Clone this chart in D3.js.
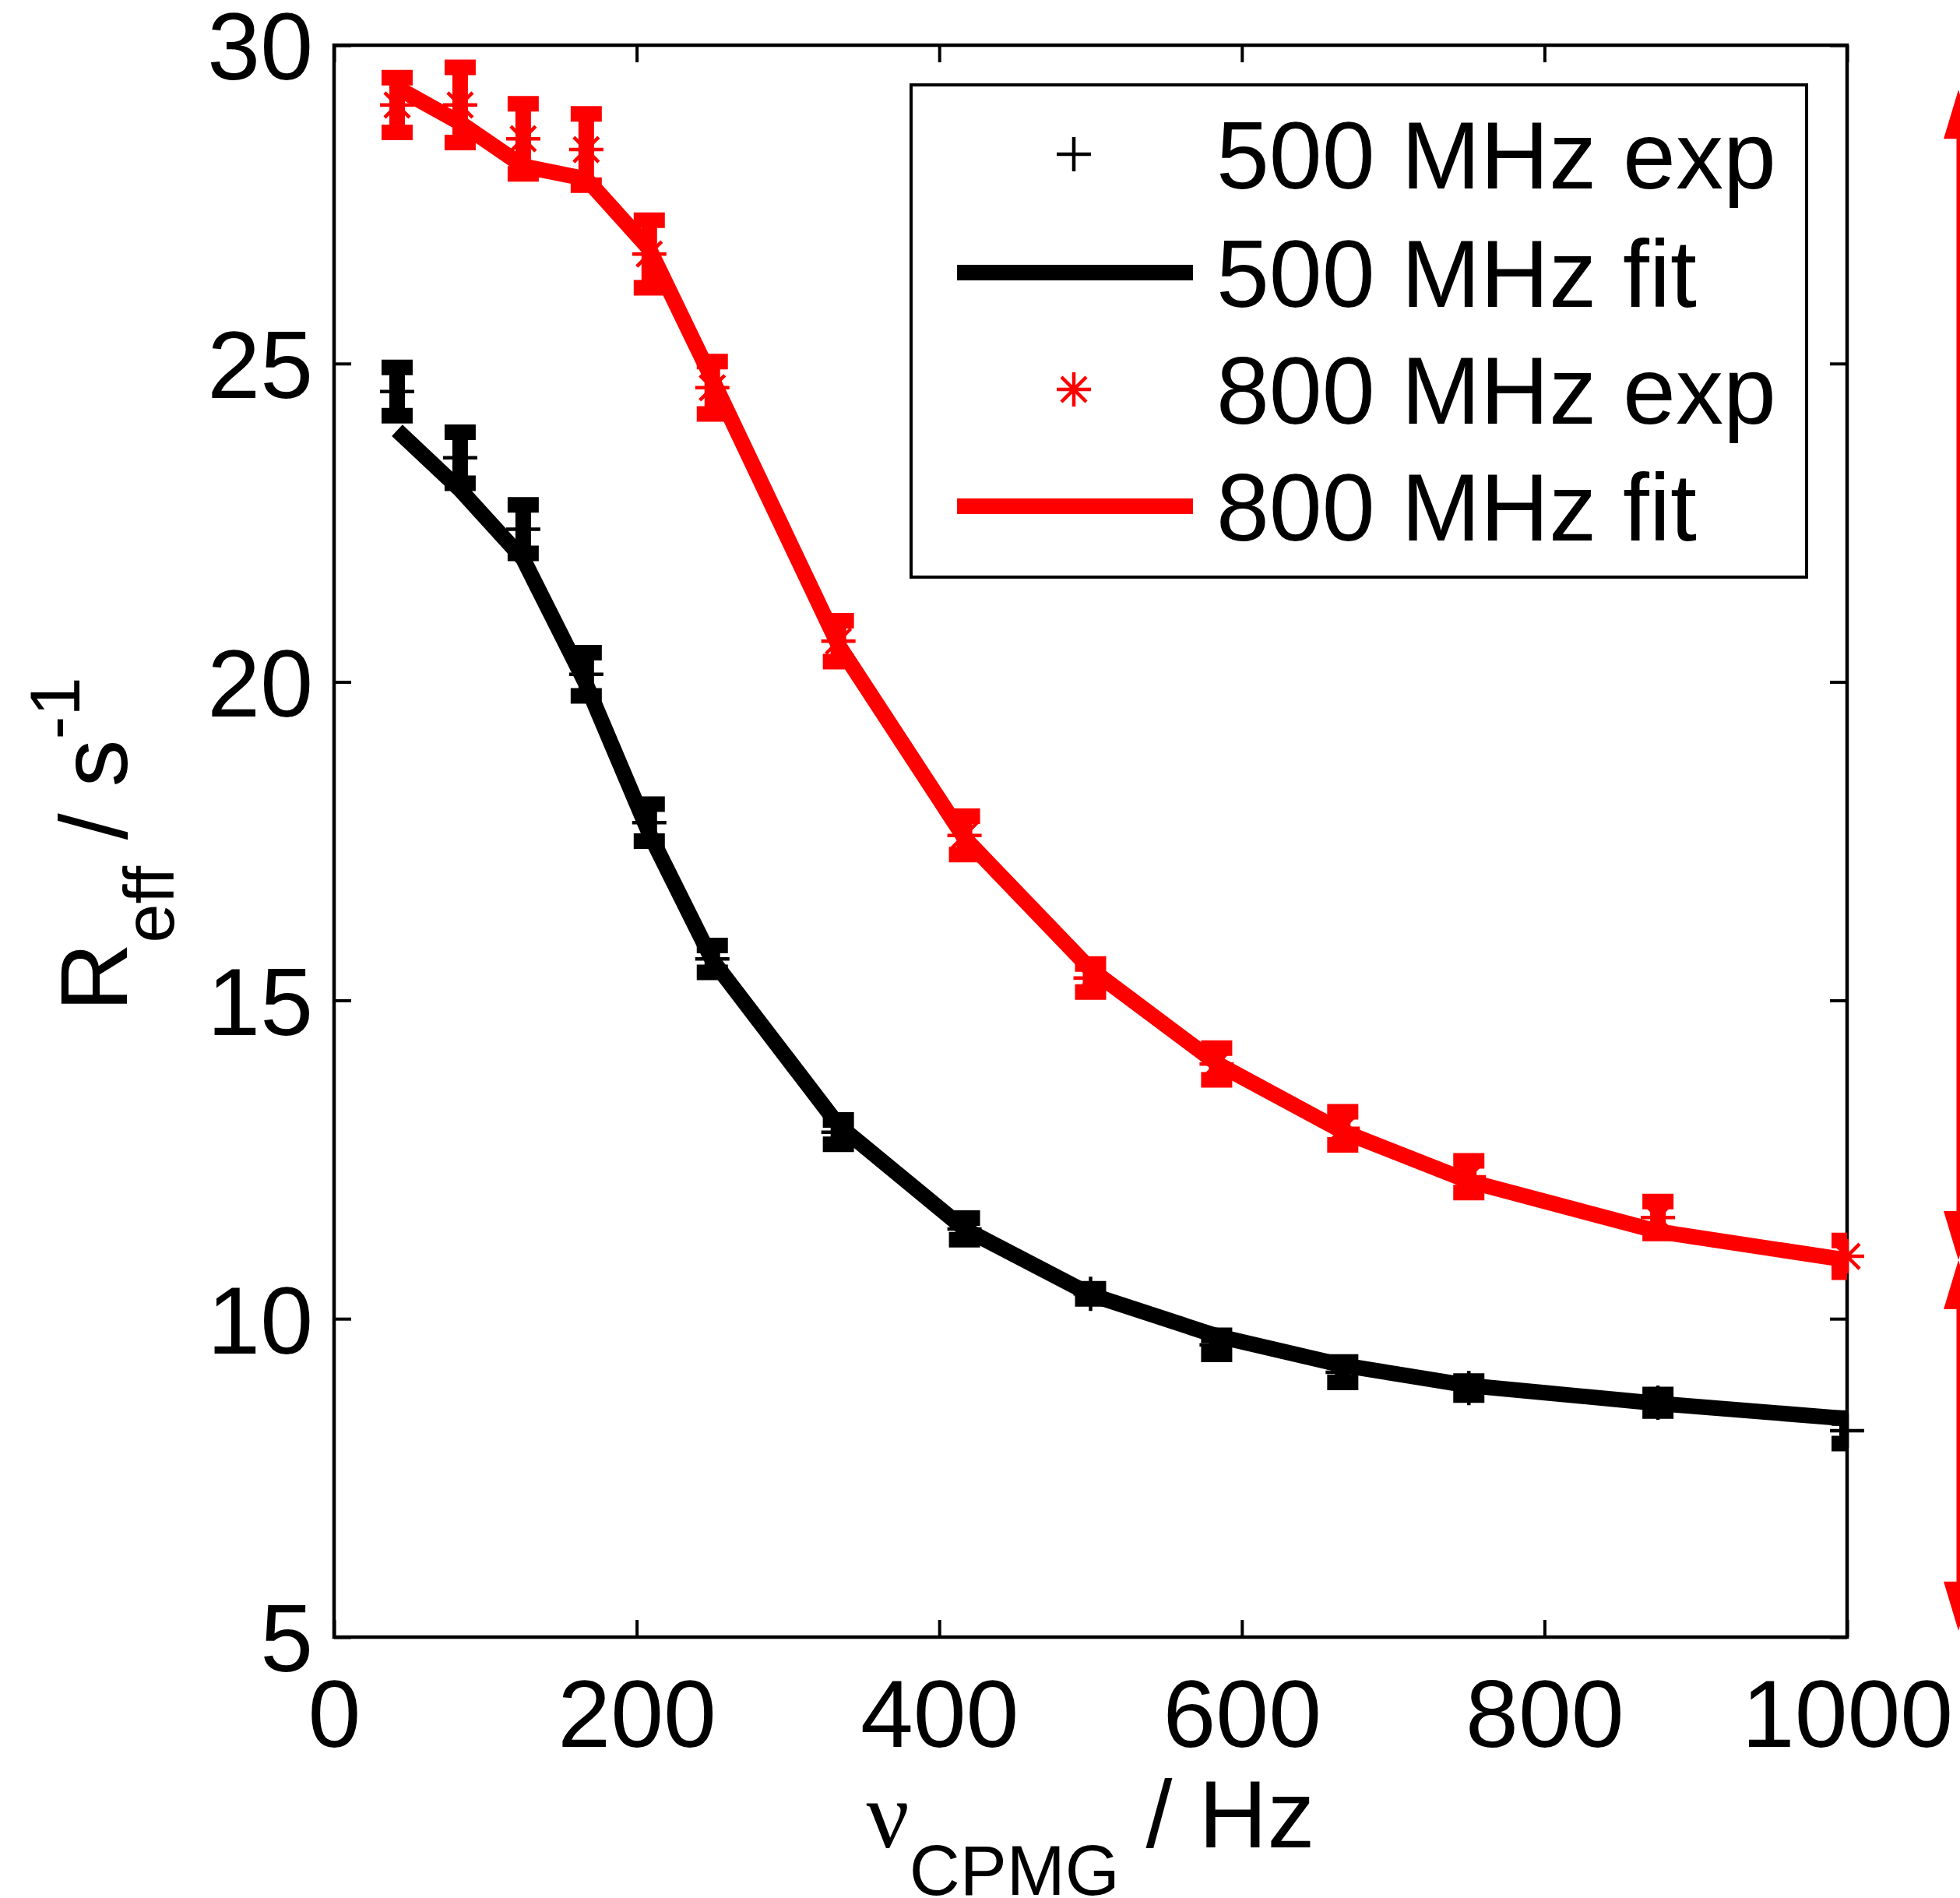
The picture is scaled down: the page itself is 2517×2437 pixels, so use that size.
<!DOCTYPE html>
<html>
<head>
<meta charset="utf-8">
<script src="https://cdn.jsdelivr.net/npm/d3@7"></script>
<style>
  html, body { margin: 0; padding: 0; background: #fff; }
  svg { display: block; font-family: "Liberation Sans", Arial, Helvetica, sans-serif; }
</style>
</head>
<body>
<div id="chart"></div>
<script>
// CPMG frequencies (Hz)
const nuCPMG = [41.67, 83.33, 125, 166.67, 208.33, 250, 333.33, 416.67, 500, 583.33, 666.67, 750, 875, 1000];

// 500 MHz
const exp500 = [24.56, 23.52, 22.40, 20.12, 17.79, 15.65, 12.93, 11.41, 10.39, 9.59, 9.16, 8.91, 8.68, 8.24];
const err500 = [0.38, 0.40, 0.38, 0.34, 0.29, 0.21, 0.19, 0.17, 0.08, 0.15, 0.16, 0.11, 0.13, 0.20];
const fit500 = [23.95, 23.02, 21.93, 19.96, 17.62, 15.63, 13.04, 11.41, 10.38, 9.73, 9.27, 8.95, 8.67, 8.43];

// 800 MHz
const exp800 = [29.06, 29.06, 28.53, 28.36, 26.72, 24.62, 20.64, 17.59, 15.35, 14.00, 12.99, 12.23, 11.59, 10.98];
const err800 = [0.43, 0.59, 0.55, 0.56, 0.53, 0.41, 0.32, 0.30, 0.22, 0.25, 0.26, 0.25, 0.25, 0.25];
const fit800 = [29.33, 28.78, 28.10, 27.90, 26.80, 24.75, 20.58, 17.55, 15.49, 14.01, 12.94, 12.16, 11.37, 10.92];

const xTicks = [0, 200, 400, 600, 800, 1000];
const yTicks = [5, 10, 15, 20, 25, 30];
const legendLabels = ['500 MHz exp', '500 MHz fit', '800 MHz exp', '800 MHz fit'];

// annotation arrows on the right (Rex / R20), in data units
const arrowLevels = [29.3, 10.92, 5.1];

const W = 2517, H = 2437;
const margin = { top: 58, right: 145, bottom: 335, left: 429 };
const FS = 122, FS_SUB = 90;

const svg = d3.select('#chart').append('svg')
  .attr('width', W)
  .attr('height', H)
  .attr('viewBox', `0 0 ${W} ${H}`);

svg.append('rect').attr('width', W).attr('height', H).attr('fill', '#fff');

const x = d3.scaleLinear().domain([0, 1000]).range([margin.left, W - margin.right]);
const y = d3.scaleLinear().domain([5, 30]).range([H - margin.bottom, margin.top]);

const x0 = x.range()[0], x1 = x.range()[1];
const y0 = y.range()[0], y1 = y.range()[1];

svg.append('clipPath').attr('id', 'plot-clip')
  .append('rect')
  .attr('x', x0).attr('y', y1)
  .attr('width', x1 - x0).attr('height', y0 - y1);

// axes (inward ticks on all four sides)
const tickLen = 22;
const axisW = 4.5;

const gx = svg.append('g').attr('transform', `translate(0,${y0})`)
  .call(d3.axisBottom(x).tickValues(xTicks).tickSizeInner(-tickLen).tickSizeOuter(0).tickFormat(d3.format('d')));
gx.selectAll('text').attr('y', 141).attr('dy', null)
  .attr('font-size', FS).attr('fill', '#000').attr('font-family', null);

svg.append('g').attr('transform', `translate(0,${y1})`)
  .call(d3.axisTop(x).tickValues(xTicks).tickSizeInner(-tickLen).tickSizeOuter(0).tickFormat(''));

const gy = svg.append('g').attr('transform', `translate(${x0},0)`)
  .call(d3.axisLeft(y).tickValues(yTicks).tickSizeInner(-tickLen).tickSizeOuter(0).tickFormat(d3.format('d')));
gy.selectAll('text').attr('x', -27).attr('dy', '0.36em')
  .attr('font-size', FS).attr('fill', '#000').attr('font-family', null);

svg.append('g').attr('transform', `translate(${x1},0)`)
  .call(d3.axisRight(y).tickValues(yTicks).tickSizeInner(-tickLen).tickSizeOuter(0).tickFormat(''));

svg.selectAll('.domain').remove();
svg.selectAll('.tick line').attr('stroke', '#000').attr('stroke-width', 4);

svg.append('rect')
  .attr('x', x0).attr('y', y1)
  .attr('width', x1 - x0).attr('height', y0 - y1)
  .attr('fill', 'none').attr('stroke', '#000').attr('stroke-width', axisW);

// series
const series = [
  { exp: exp500, err: err500, fit: fit500, color: '#000', marker: 'plus' },
  { exp: exp800, err: err800, fit: fit800, color: '#ff0000', marker: 'star' }
];

const plusPath = 'M-22,0H22M0,-22V22';
const starPath = 'M-22,0H22M0,-22V22M-16,-16L16,16M-16,16L16,-16';
const barW = 20, capHalf = 20;

const lineGen = d3.line().x(d => x(d[0])).y(d => y(d[1]));

series.forEach(s => {
  const pts = nuCPMG.map((nu, i) => ({ nu, v: s.exp[i], e: s.err[i] }));
  const bars = svg.append('g').attr('clip-path', 'url(#plot-clip)');

  bars.selectAll('line.stem').data(pts).enter().append('line')
    .attr('class', 'stem')
    .attr('x1', d => x(d.nu)).attr('x2', d => x(d.nu))
    .attr('y1', d => y(d.v - d.e)).attr('y2', d => y(d.v + d.e))
    .attr('stroke', s.color).attr('stroke-width', barW);

  bars.selectAll('line.cap-hi').data(pts).enter().append('line')
    .attr('x1', d => x(d.nu) - capHalf).attr('x2', d => x(d.nu) + capHalf)
    .attr('y1', d => y(d.v + d.e)).attr('y2', d => y(d.v + d.e))
    .attr('stroke', s.color).attr('stroke-width', barW);

  bars.selectAll('line.cap-lo').data(pts).enter().append('line')
    .attr('x1', d => x(d.nu) - capHalf).attr('x2', d => x(d.nu) + capHalf)
    .attr('y1', d => y(d.v - d.e)).attr('y2', d => y(d.v - d.e))
    .attr('stroke', s.color).attr('stroke-width', barW);

  // fit line
  bars.append('path')
    .datum(nuCPMG.map((nu, i) => [nu, s.fit[i]]))
    .attr('d', lineGen)
    .attr('fill', 'none')
    .attr('stroke', s.color)
    .attr('stroke-width', 20)
    .attr('stroke-linejoin', 'round')
    .attr('stroke-linecap', 'butt');

  // markers (not clipped)
  svg.append('g').selectAll('path').data(pts).enter().append('path')
    .attr('transform', d => `translate(${x(d.nu)},${y(d.v)})`)
    .attr('d', s.marker === 'plus' ? plusPath : starPath)
    .attr('fill', 'none')
    .attr('stroke', s.color)
    .attr('stroke-width', 4.5);
});

// legend
const lg = svg.append('g');
const lgBox = { x: 1170, y: 109, w: 1150, h: 632 };
lg.append('rect')
  .attr('x', lgBox.x).attr('y', lgBox.y)
  .attr('width', lgBox.w).attr('height', lgBox.h)
  .attr('fill', '#fff').attr('stroke', '#000').attr('stroke-width', 4);

const rowY = [198, 350, 500, 650];
const legendItems = [
  { type: 'marker', d: plusPath, color: '#000' },
  { type: 'line', color: '#000' },
  { type: 'marker', d: starPath, color: '#ff0000' },
  { type: 'line', color: '#ff0000' }
];
legendItems.forEach((it, i) => {
  const ry = rowY[i];
  if (it.type === 'marker') {
    lg.append('path')
      .attr('transform', `translate(1379,${ry})`)
      .attr('d', it.d).attr('fill', 'none')
      .attr('stroke', it.color).attr('stroke-width', 4.5);
  } else {
    lg.append('line')
      .attr('x1', 1229).attr('x2', 1532).attr('y1', ry).attr('y2', ry)
      .attr('stroke', it.color).attr('stroke-width', 20);
  }
  lg.append('text')
    .attr('x', 1562).attr('y', ry + 44)
    .attr('font-size', FS).attr('fill', '#000')
    .text(legendLabels[i]);
});

// x label: nu_CPMG / Hz
const xl = svg.append('text')
  .attr('x', (x0 + x1) / 2).attr('y', 2372)
  .attr('text-anchor', 'middle')
  .attr('font-size', FS).attr('fill', '#000');
xl.append('tspan').attr('font-family', '"Liberation Serif", "Times New Roman", serif').text('ν');
xl.append('tspan').attr('font-size', FS_SUB).attr('dy', 61).text('CPMG');
xl.append('tspan').attr('dy', -61).text(' / Hz');

// y label: R_eff / s^-1
const yl = svg.append('text')
  .attr('transform', `translate(163,${(y0 + y1) / 2 + 4}) rotate(-90)`)
  .attr('text-anchor', 'middle')
  .attr('font-size', FS).attr('fill', '#000');
yl.append('tspan').text('R');
yl.append('tspan').attr('font-size', FS_SUB).attr('dy', 60).text('eff');
yl.append('tspan').attr('dy', -60).text(' / s');
yl.append('tspan').attr('font-size', FS_SUB).attr('dy', -61).text('-1');

// red double arrows at the right edge
const ax = x1 + 143;
const headLen = 63, headHalf = 19;
const ar = svg.append('g').attr('fill', '#ff0000').attr('stroke', 'none');
function arrowHead(tipY, dir) {
  // dir = -1 points up, +1 points down
  const by = tipY - dir * headLen;
  ar.append('path').attr('d', `M${ax},${tipY}L${ax - headHalf},${by}L${ax + headHalf},${by}Z`);
}
for (let i = 0; i < arrowLevels.length - 1; i++) {
  const ta = y(arrowLevels[i]), tb = y(arrowLevels[i + 1]);
  ar.append('line')
    .attr('x1', ax).attr('x2', ax)
    .attr('y1', ta + headLen - 2).attr('y2', tb - headLen + 2)
    .attr('stroke', '#ff0000').attr('stroke-width', 5);
  arrowHead(ta, -1);
  arrowHead(tb, 1);
}
</script>
</body>
</html>
